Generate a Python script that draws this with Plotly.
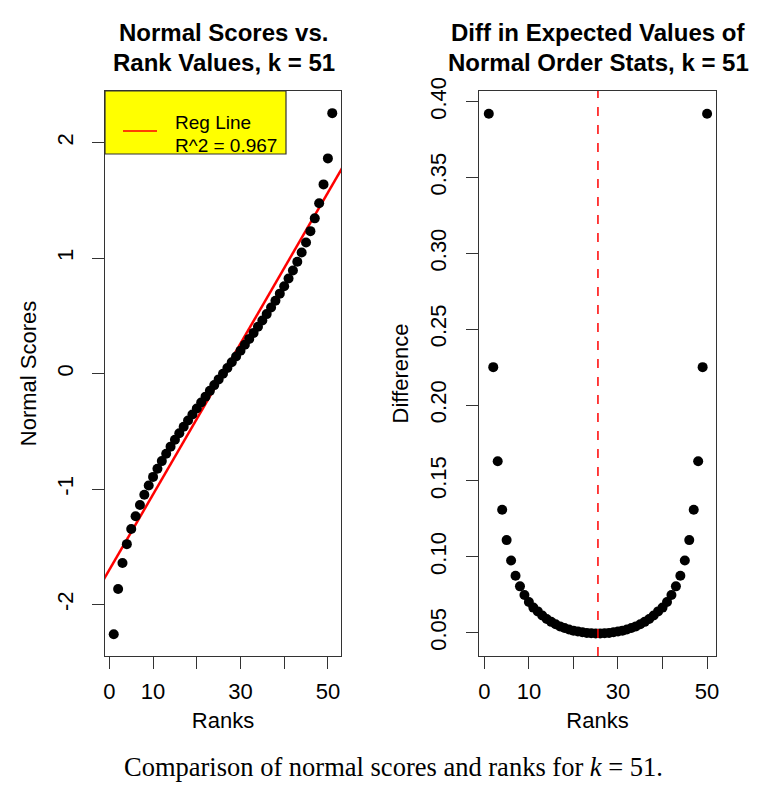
import numpy as np
import plotly.graph_objects as go

# the page body adds an 8px margin, so the figure is drawn 8px smaller
OFF = 8
W, H = 757 - 2 * OFF, 799 - 2 * OFF

# expected normal scores for k = 51
ranks = list(range(1, 52))
normal_scores = [
    -2.2562, -1.8642, -1.6392, -1.4762, -1.3452, -1.2342, -1.1367, -1.0492,
    -0.9687, -0.8939, -0.8237, -0.7572, -0.6932, -0.6319, -0.5729, -0.5158,
    -0.4603, -0.4062, -0.3532, -0.3011, -0.2498, -0.1991, -0.1489, -0.0991,
    -0.0495, 0.0, 0.0495, 0.0991, 0.1489, 0.1991, 0.2498, 0.3011, 0.3532,
    0.4062, 0.4603, 0.5158, 0.5729, 0.6319, 0.6932, 0.7572, 0.8237, 0.8939,
    0.9687, 1.0492, 1.1367, 1.2342, 1.3452, 1.4762, 1.6392, 1.8642, 2.2562,
]

# differences between consecutive expected order stats (right panel)
diff_ranks = list(range(1, 51))
differences = [
    0.392, 0.225, 0.163, 0.131, 0.111, 0.0975, 0.0875, 0.0805, 0.0748, 0.0702,
    0.0665, 0.0640, 0.0613, 0.0590, 0.0571, 0.0555, 0.0541, 0.0530, 0.0521,
    0.0513, 0.0507, 0.0502, 0.0498, 0.0496, 0.0495,
    0.0495, 0.0496, 0.0498, 0.0502, 0.0507, 0.0513, 0.0521, 0.0530, 0.0541,
    0.0555, 0.0571, 0.0590, 0.0613, 0.0640, 0.0665, 0.0702, 0.0748, 0.0805,
    0.0875, 0.0975, 0.111, 0.131, 0.163, 0.225, 0.392,
]

r2_label = "R^2 = 0.967"
x_ticks = [0, 10, 20, 30, 40, 50]
x_ticktext = ["0", "10", "", "30", "", "50"]
y1_ticks = [-2, -1, 0, 1, 2]
y1_ticktext = ["-2", "-1", "0", "1", "2"]
y2_ticks = [0.05, 0.10, 0.15, 0.20, 0.25, 0.30, 0.35, 0.40]

FONT = "Liberation Sans, Arial, sans-serif"


# page pixel -> paper fraction
def px_x(p):
    return (p - OFF) / W


def px_y(p):
    return 1 - (p - OFF) / H


slope, intercept = np.polyfit(ranks, normal_scores, 1)
line_x = np.array([-5, 60])
line_y = intercept + slope * line_x
mid_rank = np.mean(diff_ranks)

fig = go.Figure()
fig.add_trace(go.Scatter(x=line_x, y=line_y, mode="lines",
                         line=dict(color="#ff0000", width=2.5),
                         xaxis="x", yaxis="y", showlegend=False))
fig.add_trace(go.Scatter(x=ranks, y=normal_scores, mode="markers",
                         marker=dict(color="black", size=10),
                         xaxis="x", yaxis="y", showlegend=False))
fig.add_trace(go.Scatter(x=diff_ranks, y=differences, mode="markers",
                         marker=dict(color="black", size=10),
                         xaxis="x2", yaxis="y2", showlegend=False))

axis_common = dict(showgrid=False, zeroline=False, showline=True, mirror=True,
                   linecolor="#333", linewidth=1.2, ticks="outside",
                   ticklen=12, tickcolor="#333", tickwidth=1.2, automargin=False,
                   tickfont=dict(family=FONT, size=22, color="black"))
title_font = dict(family=FONT, size=22, color="black")

fig.update_layout(
    width=W, height=H,
    margin=dict(l=0, r=0, t=0, b=0),
    paper_bgcolor="white", plot_bgcolor="white",
    xaxis=dict(domain=[px_x(105), px_x(341)], range=[-1, 53],
               tickvals=x_ticks, ticktext=x_ticktext, anchor="y",
               ticklabelstandoff=3,
               title=dict(text="Ranks", font=title_font, standoff=10),
               **axis_common),
    yaxis=dict(domain=[px_y(656), px_y(91)], range=[-2.445, 2.448],
               tickvals=y1_ticks, ticktext=y1_ticktext, tickangle=-90, anchor="x",
               ticklabelstandoff=10,
               title=dict(text="Normal Scores", font=title_font, standoff=10),
               **axis_common),
    xaxis2=dict(domain=[px_x(479), px_x(716)], range=[-1.2, 52.0],
                tickvals=x_ticks, ticktext=x_ticktext, anchor="y2",
                ticklabelstandoff=3,
                title=dict(text="Ranks", font=title_font, standoff=10),
                **axis_common),
    yaxis2=dict(domain=[px_y(656), px_y(91)], range=[0.0346, 0.407],
                tickvals=y2_ticks, tickformat=".2f", tickangle=-90, anchor="x2",
                ticklabelstandoff=11,
                title=dict(text="Difference", font=title_font, standoff=11),
                **axis_common),
)

# red dashed line at the middle rank
fig.add_shape(type="line", xref="x2", yref="y2 domain", x0=mid_rank, x1=mid_rank,
              y0=0, y1=1, line=dict(color="#ff0000", width=1.5, dash="dash"))

# legend box
fig.add_shape(type="rect", xref="paper", yref="paper",
              x0=px_x(105), x1=px_x(286), y0=px_y(154), y1=px_y(91),
              fillcolor="#ffff00", line=dict(color="#333", width=1.2))
fig.add_shape(type="line", xref="paper", yref="paper",
              x0=px_x(123), x1=px_x(157), y0=px_y(131), y1=px_y(131),
              line=dict(color="#ff0000", width=1.5))
fig.add_annotation(xref="paper", yref="paper", x=px_x(173), y=px_y(122),
                   text="Reg Line", showarrow=False, xanchor="left", yanchor="middle",
                   font=dict(family=FONT, size=19, color="black"))
fig.add_annotation(xref="paper", yref="paper", x=px_x(173), y=px_y(145),
                   text=r2_label, showarrow=False, xanchor="left", yanchor="middle",
                   font=dict(family=FONT, size=19, color="black"))

# panel titles
titles = [
    (224, "Normal Scores vs.", "Rank Values, k = 51"),
    (598, "Diff in Expected Values of", "Normal Order Stats, k = 51"),
]
for cx, l1, l2 in titles:
    for cy, txt in ((33, l1), (62, l2)):
        fig.add_annotation(xref="paper", yref="paper", x=px_x(cx), y=px_y(cy),
                           text="<b>" + txt + "</b>", showarrow=False,
                           xanchor="center", yanchor="middle",
                           font=dict(family=FONT, size=24, color="black"))

# caption
fig.add_annotation(xref="paper", yref="paper", x=px_x(393), y=px_y(767),
                   text="Comparison of normal scores and ranks for <i>k</i> = 51.",
                   showarrow=False, xanchor="center", yanchor="middle",
                   font=dict(family="Liberation Serif, Times New Roman, serif",
                             size=26.5, color="black"))

fig.write_html("out.html")
